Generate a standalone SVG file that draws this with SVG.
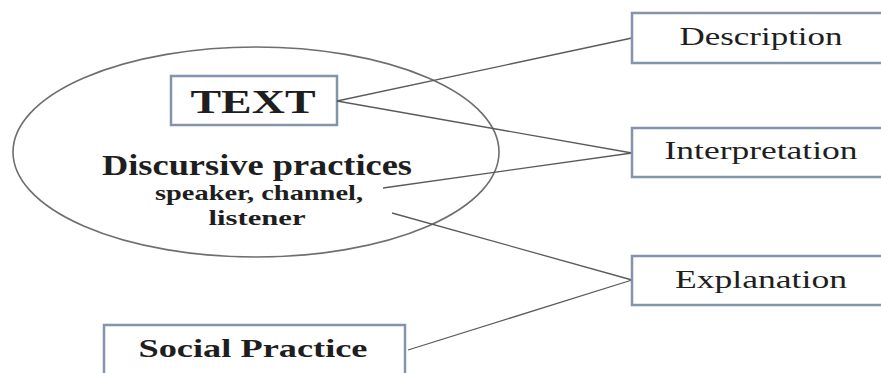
<svg xmlns="http://www.w3.org/2000/svg" width="881" height="373" viewBox="0 0 881 373">
  <style>
    .box { fill: #ffffff; stroke: #8494ad; stroke-width: 2.5; }
    .ell { fill: none; stroke: #6e6e6e; stroke-width: 1.6; }
    .conn { stroke: #5a5a5a; stroke-width: 1.3; fill: none; }
    .t { font-family: "Liberation Serif", "Times New Roman", serif; fill: #1e1e1e; text-anchor: middle; }
    .b { font-weight: bold; }
  </style>
  <rect width="881" height="373" fill="#ffffff"/>

  <!-- discourse ellipse with the text and its practices -->
  <g id="discourse">
    <ellipse class="ell" cx="256" cy="152" rx="243" ry="105"/>
    <text class="t b" x="257" y="175" font-size="29" textLength="310" lengthAdjust="spacingAndGlyphs">Discursive practices</text>
    <text class="t b" x="259" y="200" font-size="22" textLength="208" lengthAdjust="spacingAndGlyphs">speaker, channel,</text>
    <text class="t b" x="257" y="225" font-size="22" textLength="97" lengthAdjust="spacingAndGlyphs">listener</text>
  </g>

  <g id="text-node">
    <rect class="box" x="171" y="76" width="166" height="49"/>
    <text class="t b" x="253" y="113" font-size="34" textLength="125" lengthAdjust="spacingAndGlyphs">TEXT</text>
  </g>

  <!-- connectors -->
  <g id="connectors">
    <line class="conn" x1="337" y1="101" x2="632" y2="38"/>
    <line class="conn" x1="337" y1="101" x2="632" y2="153"/>
    <line class="conn" x1="383" y1="188" x2="632" y2="153"/>
    <line class="conn" x1="392" y1="213" x2="632" y2="280"/>
    <line class="conn" x1="408" y1="350" x2="632" y2="280"/>
  </g>

  <g id="description">
    <rect class="box" x="632" y="13" width="260" height="50"/>
    <text class="t" x="761" y="45" font-size="26" textLength="163" lengthAdjust="spacingAndGlyphs">Description</text>
  </g>

  <g id="interpretation">
    <rect class="box" x="632" y="128" width="260" height="49"/>
    <text class="t" x="761" y="159" font-size="26" textLength="193" lengthAdjust="spacingAndGlyphs">Interpretation</text>
  </g>

  <g id="explanation">
    <rect class="box" x="632" y="256" width="260" height="49"/>
    <text class="t" x="761" y="288" font-size="26" textLength="172" lengthAdjust="spacingAndGlyphs">Explanation</text>
  </g>

  <g id="social-practice">
    <rect class="box" x="104" y="325" width="301" height="60"/>
    <text class="t b" x="253" y="357" font-size="26" textLength="229" lengthAdjust="spacingAndGlyphs">Social Practice</text>
  </g>
</svg>
